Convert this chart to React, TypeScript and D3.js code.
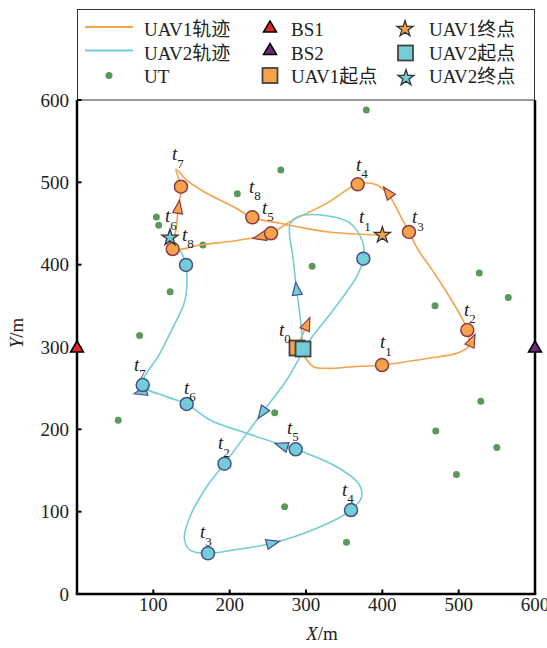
import React from "react";
import * as d3 from "d3";

// ---- data (metres) ----
const utX = [379, 267, 210, 104, 107, 165, 308, 122, 469, 527, 565, 529, 470, 550, 497, 82, 54, 259, 272, 353];
const utY = [588, 515, 486, 458, 448, 424, 398, 367, 350, 390, 360, 234, 198, 178, 145, 314, 211, 220, 106, 63];

const bsX = [0, 600];
const bsY = [300, 300];

// UAV1 trajectory
const uav1PathX = [288.2, 299.6, 309.6, 327.1, 362.0, 399.6, 462.4, 497.4, 512.6, 511.3, 471.2, 447.1, 434.9, 423.2, 410.1, 393.0, 367.7, 327.1, 279.0, 254.2, 213.5, 161.1, 125.4, 129.7, 132.7, 136.2, 129.7, 143.7, 169.9, 204.8, 229.7, 265.9, 292.1, 327.1, 370.8, 400];
const uav1PathY = [298.8, 286.3, 276.1, 274.1, 276.1, 278.1, 286.6, 292.4, 300.4, 320.6, 385.4, 417.8, 439.7, 460.3, 482.2, 496.8, 497.6, 474.5, 452.2, 438.1, 430, 423.9, 419.0, 442.1, 468.5, 494.7, 515.8, 502.8, 486.7, 470.4, 457.5, 450.2, 445.4, 440, 436.9, 436];
const uav1StubX = [288.2, 300.9];
const uav1StubY = [298.8, 326.7];
const uav1TX = [399.6, 511.3, 434.9, 367.7, 254.2, 125.4, 136.2, 229.7];
const uav1TY = [278.1, 320.6, 439.7, 497.6, 438.1, 419.0, 494.7, 457.5];
const uav1LabelX = [400.9, 510.9, 442.8, 369.4, 246.3, 119.2, 128.4, 229.3];
const uav1LabelY = [304.9, 344.9, 456.7, 520.9, 468.8, 457.9, 533.2, 494.3];
const uav1ArrowX = [300.9, 517, 407.8, 241, 132.7];
const uav1ArrowY = [326.7, 306.6, 486.7, 434, 468.5];
const uav1ArrowDeg = [-67, -65, -127, 167, -82];
const uav1Start = [288.2, 298.8];
const uav1End = [400, 436];

// UAV2 trajectory
const uav2PathX = [296.1, 292.8, 287.8, 283, 279, 289.5, 327.1, 357.6, 374.7, 375.1, 366.4, 335.8, 305.2, 274.7, 243.3, 193.2, 169.9, 148, 140.6, 148, 171.6, 204.8, 255.1, 314, 359, 373, 368.5, 340.2, 300.9, 286.5, 222.3, 174.2, 143.7, 117.5, 86.1, 108.7, 126.2, 141.5, 142.8, 137.2, 130.6, 121.8];
const uav2PathY = [297.6, 332.8, 369.2, 408.1, 448.2, 458.3, 459.5, 450.6, 426.3, 407.3, 385.4, 345.0, 308.5, 259.9, 221.1, 158.3, 130.3, 93.9, 67.7, 53.4, 49.4, 53.4, 61.6, 79.8, 102, 118.2, 134.5, 154.6, 170.9, 175.8, 195.2, 211.3, 230.8, 239.6, 253.8, 292.3, 324.7, 357.1, 399.6, 413.8, 421.8, 432.8];
const uav2TX = [375.1, 193.2, 171.6, 359, 286.5, 143.7, 86.1, 142.8];
const uav2TY = [407.3, 158.3, 49.4, 102, 175.8, 230.8, 253.8, 399.6];
const uav2LabelX = [373.4, 188.6, 165.1, 351.1, 279, 144.1, 78.6, 141.5];
const uav2LabelY = [456.7, 182.2, 74.1, 126.3, 201.6, 250.2, 278.1, 436];
const uav2ArrowX = [287.8, 243.3, 255.1, 269.5, 84.8];
const uav2ArrowY = [369.2, 221.1, 61.6, 179.8, 245.7];
const uav2ArrowDeg = [-97, 125, -14, -162, 165];
const uav2Start = [296.1, 297.6];
const uav2End = [121.8, 432.8];
const t0Label = [268.6, 320.6];

const xTicks = [100, 200, 300, 400, 500, 600];
const yTicks = [0, 100, 200, 300, 400, 500, 600];

const ORANGE = "#F6A24A";
const ORANGE_EDGE = "#8C3B46";
const CYAN = "#73CDD6";
const CYAN_EDGE = "#454F8C";
const GREEN = "#5B985B";
const SERIF = "'Liberation Serif', 'Times New Roman', serif";
const LEGEND_FONT = "'Liberation Serif', 'Noto Sans CJK SC', serif";

const x = d3.scaleLinear().domain([0, 600]).range([77, 535]);
const y = d3.scaleLinear().domain([0, 600]).range([594, 100]);

const line = d3
  .line<[number, number]>()
  .x((d) => x(d[0]))
  .y((d) => y(d[1]))
  .curve(d3.curveCatmullRom.alpha(0.5));

const zip = (a: number[], b: number[]) => a.map((v, i) => [v, b[i]] as [number, number]);

const star = d3.symbol().type(d3.symbolStar).size(80)();

function triangle(cx: number, cy: number) {
  return `M${cx},${cy - 6}L${cx + 6.5},${cy + 5}L${cx - 6.5},${cy + 5}Z`;
}

const arrowShape = "M8,0L-5,-5L-5,5Z";

const Label = ({ px, py, n }: { px: number; py: number; n: number }) => (
  <text x={px - 3} y={py + 5.5} fontFamily={SERIF} fontSize={19} fill="#222">
    <tspan fontStyle="italic">t</tspan>
    <tspan fontSize={13} dy={7.5}>{n}</tspan>
  </text>
);

const App: React.FC = () => {
  const p1 = zip(uav1PathX, uav1PathY);
  const p2 = zip(uav2PathX, uav2PathY);
  const rows = [36, 59.5, 83];

  return (
    <svg width={547} height={648} style={{ position: "absolute", left: 0, top: 0, background: "#fff" }}>
      {/* legend box */}
      <rect x={77.5} y={9.5} width={457} height={90.5} fill="none" stroke="#333" strokeWidth={1} />

      {/* UT */}
      {utX.map((ux, i) => (
        <circle key={"ut" + i} cx={x(ux)} cy={y(utY[i])} r={3.5} fill={GREEN} />
      ))}

      {/* trajectories */}
      <path d={line(p1) || ""} fill="none" stroke={ORANGE} strokeWidth={1.6} />
      <path d={line(zip(uav1StubX, uav1StubY)) || ""} fill="none" stroke={ORANGE} strokeWidth={1.6} />
      <path d={line(p2) || ""} fill="none" stroke={CYAN} strokeWidth={1.6} />

      {/* arrows */}
      {uav1ArrowX.map((ax, i) => (
        <path key={"a1" + i} d={arrowShape} fill={ORANGE} stroke={ORANGE_EDGE} strokeWidth={1.2}
          transform={`translate(${x(ax)},${y(uav1ArrowY[i])}) rotate(${uav1ArrowDeg[i]})`} />
      ))}
      {uav2ArrowX.map((ax, i) => (
        <path key={"a2" + i} d={arrowShape} fill={CYAN} stroke={CYAN_EDGE} strokeWidth={1.2}
          transform={`translate(${x(ax)},${y(uav2ArrowY[i])}) rotate(${uav2ArrowDeg[i]})`} />
      ))}

      {/* time markers */}
      {uav2TX.map((tx, i) => (
        <circle key={"c2" + i} cx={x(tx)} cy={y(uav2TY[i])} r={6.5} fill={CYAN} stroke={CYAN_EDGE} strokeWidth={1.5} />
      ))}
      {uav1TX.map((tx, i) => (
        <circle key={"c1" + i} cx={x(tx)} cy={y(uav1TY[i])} r={6.5} fill={ORANGE} stroke={ORANGE_EDGE} strokeWidth={1.5} />
      ))}

      {/* start squares and end stars */}
      <rect x={x(uav1Start[0]) - 7.5} y={y(uav1Start[1]) - 7.5} width={15} height={15} fill={ORANGE} stroke="#444" strokeWidth={1.8} />
      <rect x={x(uav2Start[0]) - 7.5} y={y(uav2Start[1]) - 7.5} width={15} height={15} fill={CYAN} stroke="#444" strokeWidth={1.8} />
      <path d={star || ""} transform={`translate(${x(uav1End[0])},${y(uav1End[1])})`} fill={ORANGE} stroke="#333" strokeWidth={1.3} />
      <path d={star || ""} transform={`translate(${x(uav2End[0])},${y(uav2End[1])})`} fill={CYAN} stroke="#333" strokeWidth={1.3} />

      {/* labels */}
      {uav1LabelX.map((lx, i) => (
        <Label key={"l1" + i} px={x(lx)} py={y(uav1LabelY[i])} n={i + 1} />
      ))}
      {uav2LabelX.map((lx, i) => (
        <Label key={"l2" + i} px={x(lx)} py={y(uav2LabelY[i])} n={i + 1} />
      ))}
      <Label px={x(t0Label[0])} py={y(t0Label[1])} n={0} />

      {/* axes */}
      <line x1={x(0)} y1={y(0)} x2={x(0)} y2={y(600)} stroke="#000" strokeWidth={2.5} />
      <line x1={x(0) - 1.25} y1={y(0)} x2={x(600) + 1.25} y2={y(0)} stroke="#000" strokeWidth={2.5} />
      <line x1={x(600)} y1={y(0)} x2={x(600)} y2={y(600)} stroke="#000" strokeWidth={2.5} />
      {yTicks.map((t) => (
        <g key={"yt" + t}>
          <line x1={x(0)} x2={x(0) + 4.5} y1={y(t)} y2={y(t)} stroke="#000" strokeWidth={2} />
          <text x={69} y={y(t) + 6.5} textAnchor="end" fontFamily={SERIF} fontSize={19} fill="#222">{t}</text>
        </g>
      ))}
      {xTicks.map((t) => (
        <g key={"xt" + t}>
          <line x1={x(t)} x2={x(t)} y1={y(0)} y2={y(0) - 4.5} stroke="#000" strokeWidth={2} />
          <text x={x(t)} y={611} textAnchor="middle" fontFamily={SERIF} fontSize={19} fill="#222">{t}</text>
        </g>
      ))}
      <text x={322} y={640} textAnchor="middle" fontFamily={SERIF} fontSize={19} fill="#222">
        <tspan fontStyle="italic">X</tspan>/m
      </text>
      <text transform="translate(23,333) rotate(-90)" textAnchor="middle" fontFamily={SERIF} fontSize={19} fill="#222">
        <tspan fontStyle="italic">Y</tspan>/m
      </text>

      {/* base stations */}
      <path d={triangle(x(bsX[0]), y(bsY[0]))} fill="#E52424" stroke="#000" strokeWidth={1.5} />
      <path d={triangle(x(bsX[1]), y(bsY[1]))} fill="#6C2A7A" stroke="#000" strokeWidth={1.5} />

      {/* legend entries */}
      <line x1={85} x2={133} y1={rows[0] - 9} y2={rows[0] - 9} stroke={ORANGE} strokeWidth={2} />
      <line x1={85} x2={133} y1={rows[1] - 9} y2={rows[1] - 9} stroke={CYAN} strokeWidth={2} />
      <circle cx={109} cy={rows[2] - 7.5} r={3.5} fill={GREEN} />
      <path d={triangle(270, rows[0] - 9)} fill="#E52424" stroke="#000" strokeWidth={1.5} />
      <path d={triangle(270, rows[1] - 10)} fill="#6C2A7A" stroke="#000" strokeWidth={1.5} />
      <rect x={262.5} y={rows[2] - 15} width={15} height={15} fill={ORANGE} stroke="#444" strokeWidth={1.8} />
      <path d={star || ""} transform={`translate(405,${rows[0] - 7})`} fill={ORANGE} stroke="#333" strokeWidth={1.3} />
      <rect x={398} y={rows[1] - 14} width={15} height={15} fill={CYAN} stroke="#444" strokeWidth={1.8} />
      <path d={star || ""} transform={`translate(406,${rows[2] - 5})`} fill={CYAN} stroke="#333" strokeWidth={1.3} />
      {[["UAV1轨迹", "BS1", "UAV1终点"], ["UAV2轨迹", "BS2", "UAV2起点"], ["UT", "UAV1起点", "UAV2终点"]].map((r, ri) =>
        r.map((s, ci) => (
          <text key={s} x={[144, 291, 429][ci]} y={rows[ri]} fontFamily={LEGEND_FONT} fontSize={19} fill="#222">{s}</text>
        ))
      )}
    </svg>
  );
};

export default App;
